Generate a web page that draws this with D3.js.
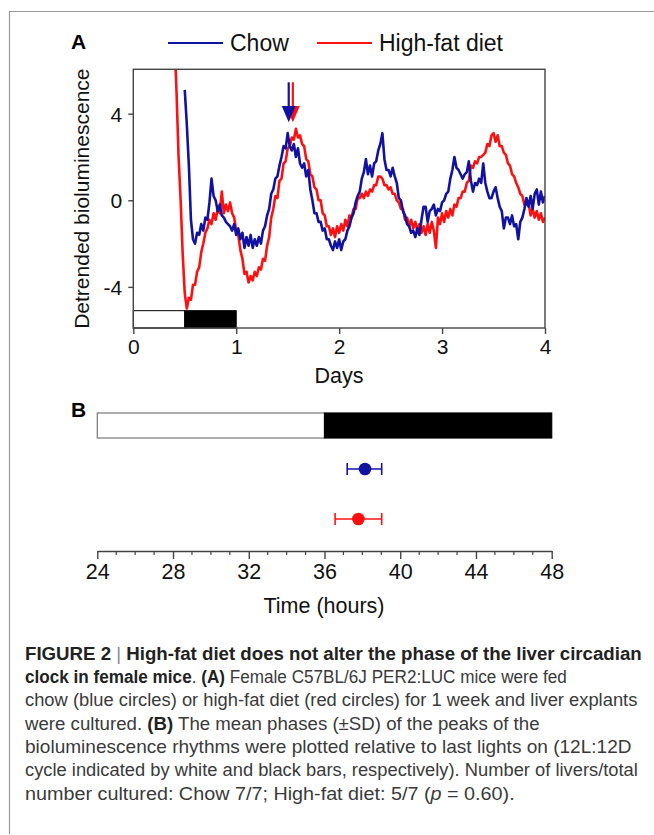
<!DOCTYPE html>
<html>
<head>
<meta charset="utf-8">
<script src="https://cdn.jsdelivr.net/npm/d3@7.9.0/dist/d3.min.js"></script>
<style>
  html, body { margin: 0; padding: 0; background: #fff; }
  svg { display: block; font-family: "Liberation Sans", Arial, Helvetica, sans-serif; }
</style>
</head>
<body>
<svg id="fig" width="654" height="835"></svg>
<script>
// ---- data ----
const seriesNames = ['Chow', 'High-fat diet'];
const seriesColors = ['#1212a2', '#ff1010'];
const sampleStep = 0.02; // days between samples

// detrended bioluminescence, chow, from day 0.50
const chowStart = 0.50;
const chowValues = [
  5.1, 3.5, 1.6, -0.9, -1.8, -2.0, -1.5, -1.6, -1.1, -1.4,
  -0.8, -0.9, -0.1, 1.0, 0.2, 0.0, -0.5, -0.2, -0.7, -0.8,
  -1.0, -1.1, -1.2, -1.4, -1.1, -1.6, -1.3, -1.8, -1.5, -2.2,
  -1.7, -2.1, -1.6, -2.2, -1.8, -2.1, -1.7, -2.0, -1.4, -1.2,
  -0.7, -0.4, 0.3, 0.5, 1.0, 1.1, 1.6, 2.0, 2.5, 2.4,
  3.1, 2.5, 2.3, 2.6, 2.0, 2.4, 1.7, 1.5, 1.7, 1.1,
  1.4, 0.5, 0.0, -0.6, -0.6, -1.0, -1.0, -1.4, -1.3, -1.8,
  -1.8, -2.1, -2.3, -1.9, -2.2, -1.8, -2.3, -1.9, -1.8, -1.4,
  -1.2, -0.8, -0.6, -0.1, 0.2, 0.4, 1.0, 1.3, 1.9, 1.2,
  1.6, 1.1, 1.7, 1.8, 2.3, 2.6, 3.1, 1.9, 1.4, 1.4,
  1.1, 1.5, 1.1, 0.8, 0.1, 0.0, -0.5, -0.7, -1.1, -1.2,
  -1.5, -1.4, -1.7, -1.3, -1.6, -0.9, -0.3, -0.3, -1.0, -0.5,
  -0.4, -0.2, -0.7, -0.4, -0.5, -0.1, 0.0, 0.3, 0.4, 1.0,
  1.4, 2.0, 1.5, 1.4, 1.2, 1.0, 1.2, 1.3, 1.8, 0.9,
  0.4, 0.8, 0.7, 1.0, 0.8, 1.7, 0.8, 0.4, 0.1, 0.1,
  0.4, 0.6, 0.1, -0.3, -0.5, -1.3, -0.8, -0.8, -1.1, -0.7,
  -1.2, -1.1, -1.8, -1.0, -0.8, -0.4, 0.1, -0.3, 0.2, -0.4,
  0.3, 0.5, -0.2, 0.4, -0.1, 0.2
];

// detrended bioluminescence, high-fat diet, from day 0.40
const hfdStart = 0.40;
const hfdValues = [
  7.5, 5.0, 2.0, 0.0, -2.5, -4.3, -5.0, -4.5, -4.6, -3.9,
  -3.9, -3.3, -3.1, -2.4, -2.0, -1.5, -1.3, -0.9, -1.1, -0.6,
  -0.9, -0.4, -0.6, 0.4, -0.6, -0.2, -0.5, -0.1, -0.6, -0.8,
  -1.4, -1.6, -2.3, -2.7, -3.4, -3.3, -3.8, -3.5, -3.7, -3.3,
  -3.5, -3.1, -3.2, -2.7, -2.8, -2.1, -1.7, -0.8, -0.4, 0.2,
  0.1, 0.9, 1.0, 1.7, 1.8, 2.4, 2.5, 2.9, 2.8, 3.3,
  2.9, 3.0, 2.6, 2.5, 1.9, 1.8, 1.2, 1.1, 0.6, 0.5,
  0.0, 0.0, -0.6, -0.7, -1.2, -1.2, -1.6, -1.3, -1.7, -1.2,
  -1.5, -1.1, -1.4, -0.9, -1.2, -0.7, -0.8, -0.4, -0.4, 0.1,
  0.1, 0.3, 0.1, 0.4, 0.2, 0.5, 0.4, 0.7, 0.7, 1.1,
  1.1, 1.0, 0.7, 0.7, 0.5, 0.6, 0.3, 0.3, 0.0, -0.1,
  -0.4, -0.4, -0.9, -0.8, -1.2, -0.9, -1.3, -1.0, -1.4, -1.1,
  -1.5, -1.2, -1.6, -1.1, -1.5, -1.0, -1.4, -2.2, -0.8, -1.1,
  -0.6, -1.0, -0.5, -0.8, -0.4, -0.7, -0.2, -0.3, 0.1, 0.1,
  0.4, 0.4, 0.8, 0.9, 1.6, 1.5, 1.8, 1.7, 2.0, 2.0,
  2.1, 2.2, 2.6, 2.5, 3.0, 3.1, 2.7, 3.0, 2.5, 2.5,
  2.2, 2.1, 1.7, 1.6, 1.2, 1.1, 0.8, 0.6, 0.3, 0.2,
  -0.2, -0.2, -0.1, -0.7, -0.4, -0.8, -0.5, -0.9, -0.6, -1.0,
  -0.8
];

const peakArrowDays = [1.51, 1.55];          // chow, high-fat
const dayTicks = [0, 1, 2, 3, 4];
const valueTicks = [-4, 0, 4];
const lightDarkDays = [[0, 0.5, 'light'], [0.5, 1, 'dark']];

// panel B: mean phase (h) with SD limits
const phaseMean = [38.14, 37.79];
const phaseLow = [37.2, 36.56];
const phaseHigh = [39.02, 39.02];
const lightDarkHours = [[24, 36, 'light'], [36, 48, 'dark']];
const hourTicks = [24, 28, 32, 36, 40, 44, 48];

const captionLines = [
  [['b', 'FIGURE 2'], ['bar', ' | '], ['b', 'High-fat diet does not alter the phase of the liver circadian']],
  [['b', 'clock in female mice'], ['r', '. '], ['b', '(A)'], ['r', ' Female C57BL/6J PER2:LUC mice were fed']],
  [['r', 'chow (blue circles) or high-fat diet (red circles) for 1 week and liver explants']],
  [['r', 'were cultured. '], ['b', '(B)'], ['r', ' The mean phases (±SD) of the peaks of the']],
  [['r', 'bioluminescence rhythms were plotted relative to last lights on (12L:12D']],
  [['r', 'cycle indicated by white and black bars, respectively). Number of livers/total']],
  [['r', 'number cultured: Chow 7/7; High-fat diet: 5/7 ('], ['i', 'p'], ['r', ' = 0.60).']]
];
const captionWidths = [617, 542, 613, 515, 607, 613, 490];

// ---- drawing ----
const svg = d3.select('#fig');

// figure frame (top and left rules)
svg.append('path').attr('d', 'M9.5,834 V11.5 H654')
  .attr('fill', 'none').attr('stroke', '#9a9a9a').attr('stroke-width', 1.2);

// ---------- Panel A ----------
const x = d3.scaleLinear().domain([0, 4]).range([133.3, 545]);
const y = d3.scaleLinear().domain([-5.9, 6.05]).range([328, 69.3]);

svg.append('text').attr('x', 71).attr('y', 49).attr('font-size', 21).attr('font-weight', 'bold').text('A');

// legend
const legX = [168, 317];
seriesNames.forEach((name, i) => {
  svg.append('line').attr('x1', legX[i]).attr('x2', legX[i] + 55).attr('y1', 43).attr('y2', 43)
    .attr('stroke', seriesColors[i]).attr('stroke-width', 2.2);
  svg.append('text').attr('x', legX[i] + 62).attr('y', 51).attr('font-size', 23).attr('fill', '#111').text(name);
});

svg.append('clipPath').attr('id', 'clipA').append('rect')
  .attr('x', x(0)).attr('y', y.range()[1]).attr('width', x(4) - x(0)).attr('height', y.range()[0] - y.range()[1]);

// light/dark bar at bottom of panel A
svg.append('g').selectAll('rect').data(lightDarkDays).join('rect')
  .attr('x', d => x(d[0])).attr('width', d => x(d[1]) - x(d[0]))
  .attr('y', y(-5.1)).attr('height', y(-5.9) - y(-5.1))
  .attr('fill', d => d[2] === 'dark' ? '#000' : '#fff')
  .attr('stroke', '#000').attr('stroke-width', 1);

// traces
const line = d3.line().x(d => x(d[0])).y(d => y(d[1]));
const toPts = (start, vals) => vals.map((v, i) => [start + i * sampleStep, v]);
const traces = [toPts(chowStart, chowValues), toPts(hfdStart, hfdValues)];
const gTr = svg.append('g').attr('clip-path', 'url(#clipA)');
[1, 0].forEach(i => {
  gTr.append('path').attr('d', line(traces[i])).attr('fill', 'none')
    .attr('stroke', seriesColors[i]).attr('stroke-width', 2.6).attr('stroke-linejoin', 'round');
});

// peak arrows (high-fat behind, chow in front)
[1, 0].forEach(i => {
  const ax = x(peakArrowDays[i]);
  svg.append('line').attr('x1', ax).attr('x2', ax).attr('y1', y(5.45)).attr('y2', y(4.3))
    .attr('stroke', seriesColors[i]).attr('stroke-width', 2.2);
  svg.append('path')
    .attr('d', `M${ax - 7},${y(4.35)} L${ax + 7},${y(4.35)} L${ax},${y(3.6)} Z`)
    .attr('fill', seriesColors[i]);
});

// frame
svg.append('rect').attr('x', x(0)).attr('y', y.range()[1]).attr('width', x(4) - x(0)).attr('height', y.range()[0] - y.range()[1])
  .attr('fill', 'none').attr('stroke', '#444').attr('stroke-width', 1.4);

// axes
const plain = d => String(d);
const axX = svg.append('g').attr('transform', `translate(0,${y.range()[0]})`)
  .call(d3.axisBottom(x).tickValues(dayTicks).tickFormat(plain).tickSize(6).tickSizeOuter(0).tickPadding(5));
const axY = svg.append('g').attr('transform', `translate(${x(0)},0)`)
  .call(d3.axisLeft(y).tickValues(valueTicks).tickFormat(plain).tickSize(5).tickSizeOuter(0).tickPadding(6));
[axX, axY].forEach(a => {
  a.select('.domain').remove();
  a.selectAll('line').attr('stroke', '#444').attr('stroke-width', 1.4);
  a.selectAll('text').attr('font-size', 21).attr('fill', '#111').attr('font-family', 'Liberation Sans, Arial, sans-serif');
});
axY.selectAll('text').attr('dy', '0.35em');

svg.append('text').attr('x', 339).attr('y', 383).attr('text-anchor', 'middle').attr('font-size', 21.5).attr('fill', '#111').text('Days');
svg.append('text').attr('transform', `translate(89,${(y.range()[0] + y.range()[1]) / 2}) rotate(-90)`)
  .attr('text-anchor', 'middle').attr('font-size', 21).attr('fill', '#111').text('Detrended bioluminescence');

// ---------- Panel B ----------
const xb = d3.scaleLinear().domain([24, 48]).range([97.3, 551.7]);
const yb = d3.scalePoint().domain(seriesNames).range([469, 519]);

svg.append('text').attr('x', 71).attr('y', 417).attr('font-size', 21).attr('font-weight', 'bold').text('B');

svg.append('g').selectAll('rect').data(lightDarkHours).join('rect')
  .attr('x', d => xb(d[0])).attr('width', d => xb(d[1]) - xb(d[0]))
  .attr('y', 413).attr('height', 25)
  .attr('fill', d => d[2] === 'dark' ? '#000' : '#fff')
  .attr('stroke', d => d[2] === 'dark' ? '#000' : '#777').attr('stroke-width', 1.2);

const gPh = svg.append('g');
seriesNames.forEach((name, i) => {
  const cy = yb(name);
  const g = gPh.append('g').attr('stroke', seriesColors[i]).attr('stroke-width', 1.6);
  g.append('line').attr('x1', xb(phaseLow[i])).attr('x2', xb(phaseHigh[i])).attr('y1', cy).attr('y2', cy);
  g.append('line').attr('x1', xb(phaseLow[i])).attr('x2', xb(phaseLow[i])).attr('y1', cy - 6).attr('y2', cy + 6);
  g.append('line').attr('x1', xb(phaseHigh[i])).attr('x2', xb(phaseHigh[i])).attr('y1', cy - 6).attr('y2', cy + 6);
  gPh.append('circle').attr('cx', xb(phaseMean[i])).attr('cy', cy).attr('r', 6.3).attr('fill', seriesColors[i]);
});

const axB = svg.append('g').attr('transform', 'translate(0,551)')
  .call(d3.axisBottom(xb).tickValues(hourTicks).tickSize(8).tickSizeOuter(0).tickPadding(5));
axB.select('.domain').attr('stroke', '#444').attr('stroke-width', 1.4);
axB.selectAll('line').attr('stroke', '#444').attr('stroke-width', 1.4);
axB.selectAll('text').attr('font-size', 21.5).attr('fill', '#111').attr('font-family', 'Liberation Sans, Arial, sans-serif');
// minor ticks every hour
axB.append('g').selectAll('line').data(d3.range(24, 49).filter(h => h % 4 !== 0)).join('line')
  .attr('x1', d => xb(d)).attr('x2', d => xb(d)).attr('y1', 0).attr('y2', 4)
  .attr('stroke', '#444').attr('stroke-width', 1.2);

svg.append('text').attr('x', 324).attr('y', 613).attr('text-anchor', 'middle').attr('font-size', 21.5).attr('fill', '#111').text('Time (hours)');

// ---------- Caption ----------
// each line is squeezed horizontally to the width it has in the figure
const capTop = 659.5, capLead = 23.35;
captionLines.forEach((parts, li) => {
  const t = svg.append('text').attr('x', 0).attr('y', 0).attr('font-size', 18.5);
  parts.forEach(([style, str]) => {
    const s = t.append('tspan').text(str);
    if (style === 'b') s.attr('font-weight', 'bold').attr('fill', '#222');
    else if (style === 'bar') s.attr('fill', '#888').attr('font-weight', 'normal');
    else if (style === 'i') s.attr('font-style', 'italic').attr('fill', '#3a3a3a');
    else s.attr('fill', '#3a3a3a');
  });
  const natural = t.node().getComputedTextLength();
  const sx = captionWidths[li] / natural;
  t.attr('transform', `translate(25,${capTop + li * capLead}) scale(${sx},1)`);
});
</script>
</body>
</html>
